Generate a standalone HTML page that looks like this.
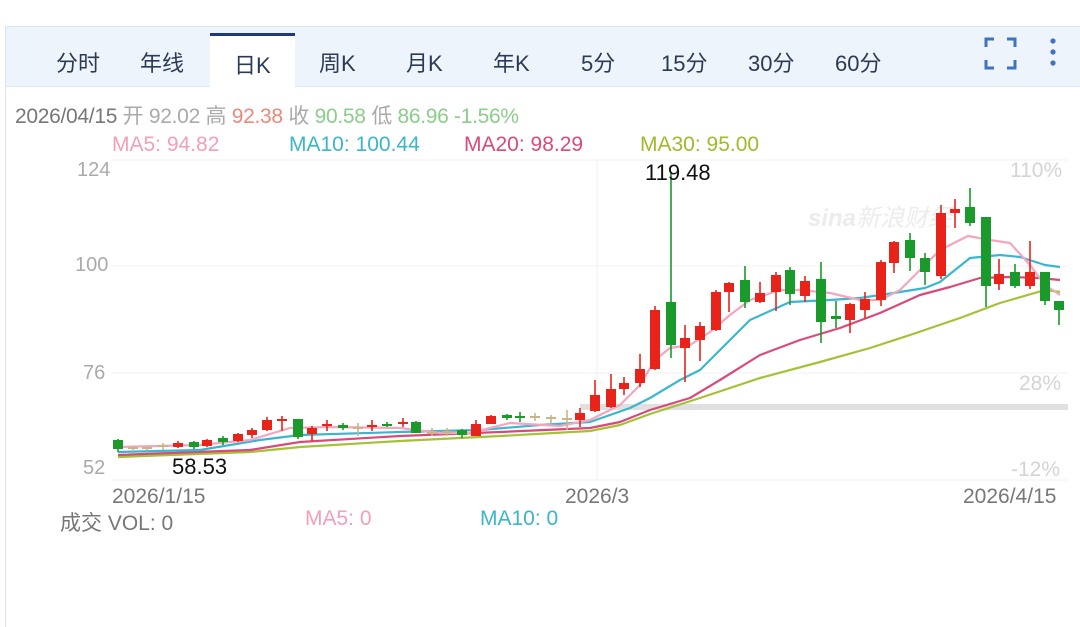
<!DOCTYPE html>
<html><head><meta charset="utf-8"><style>
html,body{margin:0;padding:0;background:#fff;width:1080px;height:514px;overflow:hidden;font-family:"Liberation Sans","Noto Sans CJK SC",sans-serif}
.t{position:absolute;white-space:nowrap}
.tab{position:absolute;white-space:nowrap;top:46px;font-size:22px;color:#2b3a55}
</style></head><body>
<div style="position:absolute;left:5px;top:26px;width:1080px;height:600px;border-left:1px solid #d8e6f0;border-top:1px solid #d8e6f0"></div>
<div style="position:absolute;left:6px;top:27px;width:1074px;height:59px;background:#eef4fb;border-bottom:1px solid #dde8f2"></div>
<div style="position:absolute;left:210px;top:33px;width:85px;height:54px;background:#fff;border-top:3px solid #1f3a7a"></div>
<div class="tab" style="left:56px">分时</div>
<div class="tab" style="left:140px">年线</div>
<div class="tab" style="left:234px;top:48px">日K</div>
<div class="tab" style="left:319px">周K</div>
<div class="tab" style="left:406px">月K</div>
<div class="tab" style="left:493px">年K</div>
<div class="tab" style="left:581px">5分</div>
<div class="tab" style="left:661px">15分</div>
<div class="tab" style="left:748px">30分</div>
<div class="tab" style="left:835px">60分</div>
<svg style="position:absolute;left:0;top:0" width="1080" height="514">
<g stroke="#3f72c0" stroke-width="3" fill="none">
<path d="M986 47V39H994M1007 39H1015V47M1015 60V68H1007M994 68H986V60"/>
</g>
<g fill="#3f72c0"><circle cx="1053" cy="41" r="2.6"/><circle cx="1053" cy="52" r="2.6"/><circle cx="1053" cy="63" r="2.6"/></g>
</svg>
<div class="t" style="left:15px;top:100px;font-size:21px;color:#888;letter-spacing:-0.3px"><span style="color:#777">2026/04/15</span> <span style="color:#aaa">开 92.02</span> <span style="color:#aaa">高</span> <span style="color:#e8897a">92.38</span> <span style="color:#aaa">收</span> <span style="color:#8ccc8c">90.58</span> <span style="color:#aaa">低</span> <span style="color:#8ccc8c">86.96 -1.56%</span></div>
<div class="t" style="left:112px;top:133px;font-size:21px;color:#f2a0b8">MA5: 94.82</div>
<div class="t" style="left:289px;top:133px;font-size:21px;color:#3bb6c8">MA10: 100.44</div>
<div class="t" style="left:464px;top:133px;font-size:21px;color:#d94a7a">MA20: 98.29</div>
<div class="t" style="left:640px;top:133px;font-size:21px;color:#a3b82a">MA30: 95.00</div>
<div class="t" style="left:77px;top:159px;font-size:20px;color:#aaa">124</div>
<div class="t" style="left:75px;top:254px;font-size:20px;color:#aaa">100</div>
<div class="t" style="left:83px;top:362px;font-size:20px;color:#aaa">76</div>
<div class="t" style="left:83px;top:457px;font-size:20px;color:#aaa">52</div>
<div class="t" style="left:1010px;top:159px;font-size:21px;color:#d4d4d4">110%</div>
<div class="t" style="left:1019px;top:372px;font-size:21px;color:#d4d4d4">28%</div>
<div class="t" style="left:1011px;top:458px;font-size:21px;color:#d4d4d4">-12%</div>
<div class="t" style="left:808px;top:198px;font-size:24px;color:#ececec;font-style:italic;font-weight:bold">sina<span style="font-weight:normal">新浪财经</span></div>
<svg id="c" style="position:absolute;left:0;top:0" width="1080" height="514">
<g stroke="#f0f0f0" stroke-width="1">
<line x1="112" y1="160" x2="1068" y2="160"/><line x1="112" y1="266" x2="1068" y2="266"/>
<line x1="112" y1="373" x2="1068" y2="373"/><line x1="112" y1="480" x2="1068" y2="480"/>
<line x1="597" y1="160" x2="597" y2="480"/>
</g>
<rect x="580" y="404" width="488" height="6" fill="#e0e0e0"/>
<g fill="none" stroke-width="2.2" stroke-linejoin="round">
<polyline stroke="#a3c235" points="118,457 250,452 300,447 400,441 500,436 590,431 620,425 650,414 700,398 760,378 820,362 870,348 910,335 960,318 1000,303 1045,290 1060,292"/>
<polyline stroke="#d94a7a" points="118,455 250,450 300,442 400,436 500,432 590,428 620,422 650,410 690,398 720,380 760,355 800,340 840,328 880,313 920,295 950,287 980,278 1010,277 1040,278 1060,280"/>
<polyline stroke="#3bb6d0" points="118,452 200,450 260,440 300,435 400,432 480,430 540,425 590,422 630,408 650,398 680,380 700,370 720,350 750,320 790,302 830,300 860,298 900,292 925,288 940,282 970,258 1000,255 1020,257 1045,265 1060,267"/>
<polyline stroke="#f2a6bf" points="118,447 200,445 250,440 290,428 330,427 400,428 440,433 470,433 510,423 560,426 590,420 620,405 640,385 655,360 670,348 690,345 710,332 730,315 750,300 780,290 800,290 830,293 860,300 880,300 900,290 920,270 940,250 968,236 990,240 1010,243 1030,265 1045,285 1060,295"/>
</g>
<g id="k"></g>
</svg>
<div class="t" style="left:645px;top:160px;font-size:22px;color:#111">119.48</div>
<div class="t" style="left:172px;top:454px;font-size:22px;color:#111">58.53</div>
<div class="t" style="left:112px;top:485px;font-size:21px;color:#777">2026/1/15</div>
<div class="t" style="left:565px;top:485px;font-size:21px;color:#777">2026/3</div>
<div class="t" style="left:963px;top:485px;font-size:21px;color:#777">2026/4/15</div>
<div class="t" style="left:60px;top:507px;font-size:21px;color:#777">成交 VOL: 0</div>
<div class="t" style="left:305px;top:507px;font-size:21px;color:#f2a0b8">MA5: 0</div>
<div class="t" style="left:480px;top:507px;font-size:21px;color:#3bb6c8">MA10: 0</div>
<script>
var R="#e8241a",G="#1a9a2a",T="#c9b48a";
var d=[[118,440,449,439,452,G],[133,447,449,446,450,T],[147,447,449,446,450,T],[163,445,447,443,450,T],[178,443,447,441,448,R],[194,442,447,441,449,G],[207,440,446,439,447,R],[223,438,442,436,445,G],[238,434,441,433,442,R],[252,430,435,428,438,R],[267,420,430,417,431,R],[282,419,421,416,431,R],[298,419,437,419,439,G],[312,428,434,426,441,R],[327,424,426,420,431,R],[343,425,428,423,430,G],[358,427,429,423,436,T],[372,425,427,420,431,R],[387,424,426,422,427,G],[403,422,424,418,427,R],[416,422,433,421,433,G],[432,432,434,428,436,T],[447,431,433,428,436,T],[462,430,435,429,438,G],[476,424,436,420,436,R],[491,416,424,415,424,R],[507,415,418,414,420,G],[520,416,418,412,422,G],[535,416,418,413,421,T],[551,417,419,415,423,T],[567,418,420,410,430,T],[580,413,420,408,427,R],[595,395,411,380,412,R],[611,389,407,374,408,R],[624,383,389,377,395,R],[640,369,383,354,387,R],[655,310,369,306,370,R],[671,302,345,172,358,G],[685,338,348,325,382,R],[700,326,340,322,361,R],[716,292,330,290,331,R],[729,283,292,282,312,R],[745,280,302,266,308,G],[760,293,302,282,303,R],[776,275,292,272,311,R],[790,270,294,267,305,G],[805,281,296,276,302,R],[821,279,322,262,343,G],[836,316,319,301,328,G],[850,304,320,303,333,R],[865,299,310,292,318,R],[881,262,300,260,306,R],[894,242,263,241,273,R],[910,240,258,233,271,G],[925,258,272,253,285,G],[941,213,276,205,279,R],[955,209,213,199,228,R],[970,207,223,188,226,G],[986,217,286,217,307,G],[999,274,284,259,290,R],[1015,272,286,264,288,G],[1030,272,286,241,289,R],[1045,272,301,272,305,G],[1059,301,310,301,325,G]];
var s="";d.forEach(function(c){var w=10,h=Math.max(c[2]-c[1],2);s+='<line x1="'+c[0]+'" x2="'+c[0]+'" y1="'+c[3]+'" y2="'+c[4]+'" stroke="'+c[5]+'" stroke-width="1.6"/><rect x="'+(c[0]-w/2)+'" y="'+c[1]+'" width="'+w+'" height="'+h+'" fill="'+c[5]+'"/>';});
document.getElementById("k").innerHTML=s;
</script>
</body></html>
